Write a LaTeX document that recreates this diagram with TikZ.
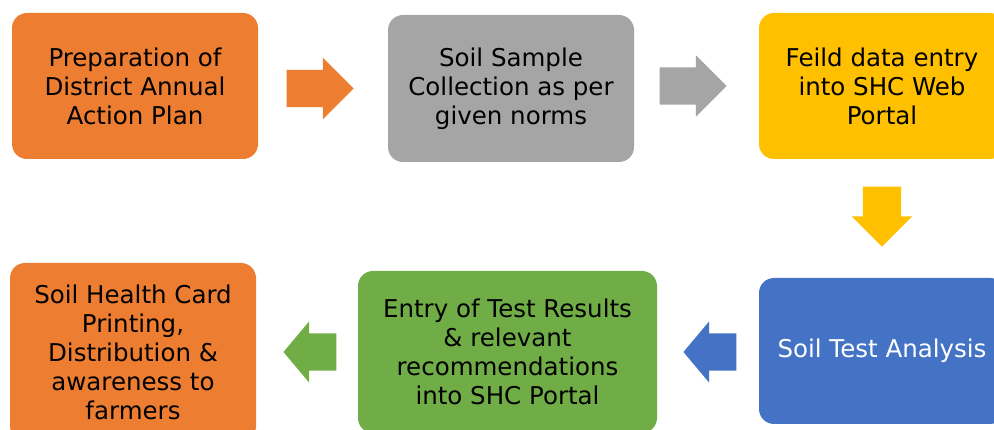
\documentclass[tikz,border=0pt]{standalone}
\usepackage{fontspec}
\setmainfont{DejaVu Sans}
\usetikzlibrary{positioning,calc,shapes.arrows}
\definecolor{shcOrange}{HTML}{ED7D31}
\definecolor{shcGray}{HTML}{A5A5A5}
\definecolor{shcYellow}{HTML}{FFC000}
\definecolor{shcBlue}{HTML}{4472C4}
\definecolor{shcGreen}{HTML}{70AD47}
\tikzset{
stepbox/.style={
  rectangle, rounded corners=15pt,
  minimum width=246pt, minimum height=146pt,
  inner sep=0pt, align=center,
  font=\fontsize{24.5}{29}\selectfont
},
blockarrow/.style={
  single arrow, draw=none, inner sep=0pt,
  text height=18.5pt, text depth=18.5pt,
  minimum width=61pt, minimum height=67pt,
  single arrow head extend=12pt
},
}
\begin{document}
\begin{tikzpicture}[x=1pt,y=-1pt]
\clip (0,0) rectangle (994,430);
% top row
\node[stepbox, fill=shcOrange] (plan) at (135,86) {Preparation of\\District Annual\\Action Plan};
\node[stepbox, fill=shcGray, minimum height=147pt] (sample) at (511,88.5) {Soil Sample\\Collection as per\\given norms};
\node[stepbox, fill=shcYellow] (entry) at (882,86) {Feild data entry\\into SHC Web\\Portal};
% bottom row
\node[stepbox, fill=shcBlue, text=white] (analysis) at (882,351) {Soil Test Analysis};
\node[stepbox, fill=shcGreen, minimum width=299pt, minimum height=162pt] (results) at (507.5,352) {Entry of Test Results\\\& relevant\\recommendations\\into SHC Portal};
\node[stepbox, fill=shcOrange, minimum height=178pt] (card) at (133,352) {Soil Health Card\\Printing,\\Distribution \&\\awareness to\\farmers};
% arrows
\node[blockarrow, fill=shcOrange, left=34pt of sample.west, anchor=tip] (a1) {};
\node[blockarrow, fill=shcGray, left=32pt of entry.west, anchor=tip] (a2) {};
\node[blockarrow, fill=shcYellow, shape border rotate=270, text width=38pt, text height=10pt, text depth=10pt, minimum width=60pt, minimum height=60pt, single arrow head extend=11pt, above=31pt of analysis.north, anchor=tip] (a3) {};
\node[blockarrow, fill=shcBlue, shape border rotate=180, minimum height=53pt, single arrow tip angle=100, right=26pt of results.east, anchor=tip] (a4) {};
\node[blockarrow, fill=shcGreen, shape border rotate=180, minimum height=53pt, single arrow tip angle=100, right=27pt of card.east, anchor=tip] (a5) {};
\end{tikzpicture}
\end{document}
